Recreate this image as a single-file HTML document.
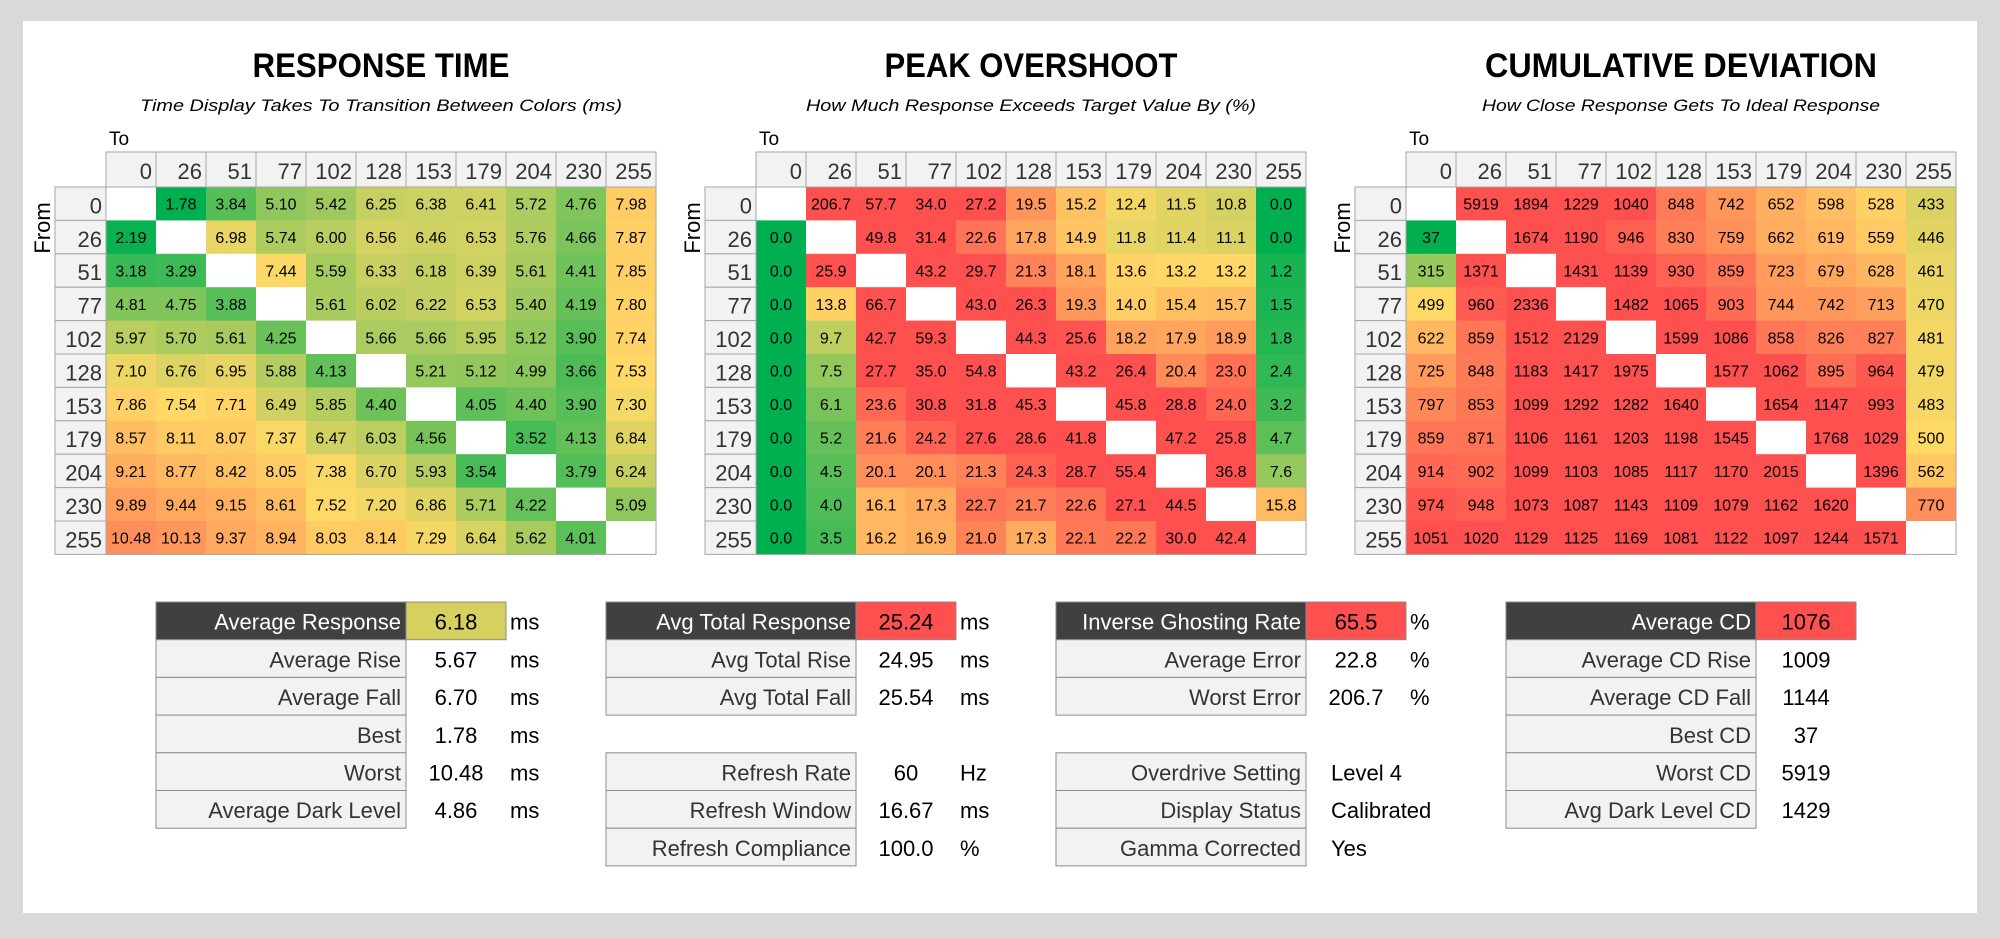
<!DOCTYPE html>
<html><head><meta charset="utf-8">
<style>
html,body{margin:0;padding:0;background:#d9d9d9;}
svg{display:block;font-family:"Liberation Sans",sans-serif;}
</style></head>
<body>
<svg id="s" width="2000" height="938" viewBox="0 0 2000 938" xmlns="http://www.w3.org/2000/svg">
<rect x="0" y="0" width="2000" height="938" fill="#d9d9d9"/>
<rect x="23" y="21" width="1954" height="892" fill="#ffffff"/>
<g id="root"></g>
</svg>
<script>
const levels = ["0","26","51","77","102","128","153","179","204","230","255"];
const rtValues = [
[null,1.78,3.84,5.10,5.42,6.25,6.38,6.41,5.72,4.76,7.98],
[2.19,null,6.98,5.74,6.00,6.56,6.46,6.53,5.76,4.66,7.87],
[3.18,3.29,null,7.44,5.59,6.33,6.18,6.39,5.61,4.41,7.85],
[4.81,4.75,3.88,null,5.61,6.02,6.22,6.53,5.40,4.19,7.80],
[5.97,5.70,5.61,4.25,null,5.66,5.66,5.95,5.12,3.90,7.74],
[7.10,6.76,6.95,5.88,4.13,null,5.21,5.12,4.99,3.66,7.53],
[7.86,7.54,7.71,6.49,5.85,4.40,null,4.05,4.40,3.90,7.30],
[8.57,8.11,8.07,7.37,6.47,6.03,4.56,null,3.52,4.13,6.84],
[9.21,8.77,8.42,8.05,7.38,6.70,5.93,3.54,null,3.79,6.24],
[9.89,9.44,9.15,8.61,7.52,7.20,6.86,5.71,4.22,null,5.09],
[10.48,10.13,9.37,8.94,8.03,8.14,7.29,6.64,5.62,4.01,null]];
const poValues = [
[null,206.7,57.7,34.0,27.2,19.5,15.2,12.4,11.5,10.8,0.0],
[0.0,null,49.8,31.4,22.6,17.8,14.9,11.8,11.4,11.1,0.0],
[0.0,25.9,null,43.2,29.7,21.3,18.1,13.6,13.2,13.2,1.2],
[0.0,13.8,66.7,null,43.0,26.3,19.3,14.0,15.4,15.7,1.5],
[0.0,9.7,42.7,59.3,null,44.3,25.6,18.2,17.9,18.9,1.8],
[0.0,7.5,27.7,35.0,54.8,null,43.2,26.4,20.4,23.0,2.4],
[0.0,6.1,23.6,30.8,31.8,45.3,null,45.8,28.8,24.0,3.2],
[0.0,5.2,21.6,24.2,27.6,28.6,41.8,null,47.2,25.8,4.7],
[0.0,4.5,20.1,20.1,21.3,24.3,28.7,55.4,null,36.8,7.6],
[0.0,4.0,16.1,17.3,22.7,21.7,22.6,27.1,44.5,null,15.8],
[0.0,3.5,16.2,16.9,21.0,17.3,22.1,22.2,30.0,42.4,null]];
const cdValues = [
[null,5919,1894,1229,1040,848,742,652,598,528,433],
[37,null,1674,1190,946,830,759,662,619,559,446],
[315,1371,null,1431,1139,930,859,723,679,628,461],
[499,960,2336,null,1482,1065,903,744,742,713,470],
[622,859,1512,2129,null,1599,1086,858,826,827,481],
[725,848,1183,1417,1975,null,1577,1062,895,964,479],
[797,853,1099,1292,1282,1640,null,1654,1147,993,483],
[859,871,1106,1161,1203,1198,1545,null,1768,1029,500],
[914,902,1099,1103,1085,1117,1170,2015,null,1396,562],
[974,948,1073,1087,1143,1109,1079,1162,1620,null,770],
[1051,1020,1129,1125,1169,1081,1122,1097,1244,1571,null]];
const rtStops = [2, 7.5, 13];
const poStops = [0, 13, 26];
const cdStops = [37, 500, 1000];

const NS = "http://www.w3.org/2000/svg";
const root = document.getElementById('root');
function mk(tag, attrs, parent, text){
  const e = document.createElementNS(NS, tag);
  for (const k in attrs) e.setAttribute(k, attrs[k]);
  if (text !== undefined) e.textContent = text;
  (parent||root).appendChild(e);
  return e;
}
const G=[0,176,80], Y=[255,217,102], R=[255,80,80];
function lerp(a,b,t){return a.map((v,i)=>Math.round(v+(b[i]-v)*t));}
function color(v, st){
  let c;
  if (v<=st[0]) c=G;
  else if (v<=st[1]) c=lerp(G,Y,(v-st[0])/(st[1]-st[0]));
  else if (v<=st[2]) c=lerp(Y,R,(v-st[1])/(st[2]-st[1]));
  else c=R;
  return 'rgb('+c.join(',')+')';
}

const X0=106, Y0=187, CW=50, RH=33.4, HH=35;
function colX(j){return X0+j*CW;}
function rowY(i){return Y0+i*RH;}

function panel(off, title, titleW, sub, subW, vals, stops, dec, name){
  const g = mk('g', {transform:'translate('+off+',0)'});
  
  
  const cx = X0 + 11*CW/2 - 0;
  const t = mk('text',{x:cx,y:77,'text-anchor':'middle','font-size':34,'font-weight':'bold',fill:'#000',textLength:titleW,lengthAdjust:'spacingAndGlyphs'},g,title);
  
  
  const s = mk('text',{x:cx,y:111,'text-anchor':'middle','font-size':17,'font-style':'italic',fill:'#000',textLength:subW,lengthAdjust:'spacingAndGlyphs'},g,sub);
  
  
  const to = mk('text',{x:109,y:145,'font-size':19,fill:'#000'},g,'To');
  
  
  const fr = mk('text',{x:0,y:0,'font-size':22,fill:'#000','text-anchor':'middle',transform:'translate(50,228) rotate(-90)'},g,'From');
  
  
  // header row
  levels.forEach((lv,j)=>{
    const r = mk('rect',{x:colX(j),y:Y0-HH,width:CW,height:HH,fill:'#f2f2f2',stroke:'#a6a6a6','stroke-width':1},g);
    
    
    const tx = mk('text',{x:colX(j)+CW-4,y:Y0-8,'text-anchor':'end','font-size':22,fill:'#333'},g,lv);
    
    
  });
  levels.forEach((lv,i)=>{
    const r = mk('rect',{x:55,y:rowY(i),width:X0-55,height:RH,fill:'#f2f2f2',stroke:'#a6a6a6','stroke-width':1},g);
    
    
    const tx = mk('text',{x:X0-4,y:rowY(i)+RH-7,'text-anchor':'end','font-size':22,fill:'#333'},g,lv);
    
    
  });
  vals.forEach((row,i)=>row.forEach((v,j)=>{
    const fill = v===null ? '#ffffff' : color(v,stops);
    const c = mk('rect',{x:colX(j),y:rowY(i),width:CW,height:RH+0.5,fill:fill},g);
    
    
    if (v!==null){
      const tx = mk('text',{x:colX(j)+CW/2,y:rowY(i)+RH/2+6,'text-anchor':'middle','font-size':16,fill:'#000'},g,v.toFixed(dec));
      
      
    }
  }));
  const b = mk('rect',{x:X0,y:Y0,width:11*CW,height:11*RH,fill:'none',stroke:'#a6a6a6','stroke-width':1},g);
  
  
}
panel(0,'RESPONSE TIME',257,'Time Display Takes To Transition Between Colors (ms)',482,rtValues,rtStops,2,'response-time');
panel(650,'PEAK OVERSHOOT',293,'How Much Response Exceeds Target Value By (%)',450,poValues,poStops,1,'peak-overshoot');
panel(1300,'CUMULATIVE DEVIATION',392,'How Close Response Gets To Ideal Response',398,cdValues,cdStops,0,'cumulative-deviation');

// stats tables
const TY=602, TR=37.7;
function statRow(left, labelR, valR, idx, label, value, unit, opts, name){
  opts = opts||{};
  const y = TY + idx*TR;
  const head = !!opts.head;
  const r = mk('rect',{x:left,y:y,width:labelR-left,height:TR,fill:head?'#404040':'#f2f2f2',stroke:'#8c8c8c','stroke-width':1});
  
  
  const t = mk('text',{x:labelR-5,y:y+TR-10,'text-anchor':'end','font-size':22,fill:head?'#fff':'#333'},root,label);
  
  
  if (opts.box){
    const bx = mk('rect',{x:labelR,y:y,width:valR-labelR,height:TR,fill:opts.box,stroke:'#8c8c8c','stroke-width':1});
    
    
  }
  const vx = opts.leftAlign ? labelR+25 : (labelR+valR)/2;
  const v = mk('text',{x:vx,y:y+TR-10,'text-anchor':opts.leftAlign?'start':'middle','font-size':22,fill:'#000'},root,value);
  
  
  if (unit){
    const u = mk('text',{x:valR+4,y:y+TR-10,'font-size':22,fill:'#000'},root,unit);
    
    
  }
}
statRow(156,406,506,0,'Average Response','6.18','ms',{head:1,box:'#d6d05e'},'average-response');
statRow(156,406,506,1,'Average Rise','5.67','ms',{},'average-rise');
statRow(156,406,506,2,'Average Fall','6.70','ms',{},'average-fall');
statRow(156,406,506,3,'Best','1.78','ms',{},'best');
statRow(156,406,506,4,'Worst','10.48','ms',{},'worst');
statRow(156,406,506,5,'Average Dark Level','4.86','ms',{},'average-dark-level');

statRow(606,856,956,0,'Avg Total Response','25.24','ms',{head:1,box:'#ff5050'},'avg-total-response');
statRow(606,856,956,1,'Avg Total Rise','24.95','ms',{},'avg-total-rise');
statRow(606,856,956,2,'Avg Total Fall','25.54','ms',{},'avg-total-fall');
statRow(606,856,956,4,'Refresh Rate','60','Hz',{},'refresh-rate');
statRow(606,856,956,5,'Refresh Window','16.67','ms',{},'refresh-window');
statRow(606,856,956,6,'Refresh Compliance','100.0','%',{},'refresh-compliance');

statRow(1056,1306,1406,0,'Inverse Ghosting Rate','65.5','%',{head:1,box:'#ff5050'},'inverse-ghosting-rate');
statRow(1056,1306,1406,1,'Average Error','22.8','%',{},'average-error');
statRow(1056,1306,1406,2,'Worst Error','206.7','%',{},'worst-error');
statRow(1056,1306,1406,4,'Overdrive Setting','Level 4','',{leftAlign:1},'overdrive-setting');
statRow(1056,1306,1406,5,'Display Status','Calibrated','',{leftAlign:1},'display-status');
statRow(1056,1306,1406,6,'Gamma Corrected','Yes','',{leftAlign:1},'gamma-corrected');

statRow(1506,1756,1856,0,'Average CD','1076','',{head:1,box:'#ff5050'},'average-cd');
statRow(1506,1756,1856,1,'Average CD Rise','1009','',{},'average-cd-rise');
statRow(1506,1756,1856,2,'Average CD Fall','1144','',{},'average-cd-fall');
statRow(1506,1756,1856,3,'Best CD','37','',{},'best-cd');
statRow(1506,1756,1856,4,'Worst CD','5919','',{},'worst-cd');
statRow(1506,1756,1856,5,'Avg Dark Level CD','1429','',{},'avg-dark-level-cd');
</script>
</body></html>
